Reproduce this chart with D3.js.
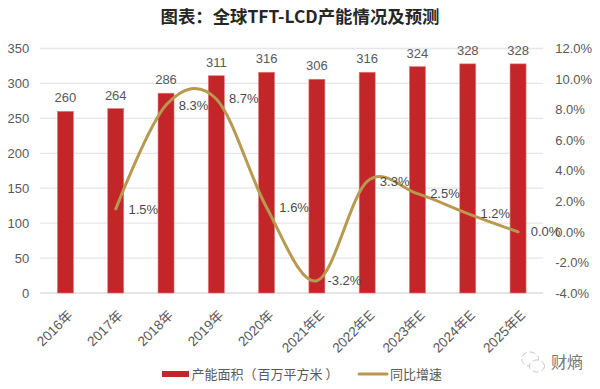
<!DOCTYPE html>
<html>
<head>
<meta charset="utf-8">
<script src="https://cdn.jsdelivr.net/npm/d3@7"></script>
<style>
  html, body { margin: 0; padding: 0; background: #fff; }
  text { font-family: "Liberation Sans", "Noto Sans CJK SC", Arial, sans-serif; fill: #595959; }
  .cjk { font-family: "Noto Sans CJK SC", sans-serif; }
</style>
</head>
<body>
<div id="chart"></div>
<script>
const years = ["2016年", "2017年", "2018年", "2019年", "2020年", "2021年E", "2022年E", "2023年E", "2024年E", "2025年E"];
const capacity = [260, 264, 286, 311, 316, 306, 316, 324, 328, 328];
const growth = [null, 1.5, 8.3, 8.7, 1.6, -3.2, 3.3, 2.5, 1.2, 0.0];
const leftTicks = [0, 50, 100, 150, 200, 250, 300, 350];
const rightTicks = [-4, -2, 0, 2, 4, 6, 8, 10, 12];

const width = 600, height = 389;
const margin = { top: 48.5, left: 40.3, right: 56.8, bottom: 96 };
const innerW = width - margin.left - margin.right,
  innerH = height - margin.top - margin.bottom;

const svg = d3.select("#chart").append("svg")
  .attr("width", width)
  .attr("height", height)
  .style("display", "block");

svg.append("text")
  .attr("class", "cjk")
  .attr("x", 300)
  .attr("y", 23)
  .attr("text-anchor", "middle")
  .style("font-size", "17.4px")
  .style("font-weight", 700)
  .style("fill", "#262626")
  .text("图表：全球TFT-LCD产能情况及预测");

const g = svg.append("g")
  .attr("transform", "translate(" + margin.left + "," + margin.top + ")");

const x = d3.scaleBand().domain(years).range([0, innerW]);
const y = d3.scaleLinear().domain([0, 350]).range([innerH, 0]);
const yRight = d3.scaleLinear().domain([-4, 12]).range([innerH, 0]);
const cx = (d) => x(d) + x.bandwidth() / 2;

// Grid lines
g.append("g")
  .selectAll("line")
  .data(leftTicks)
  .join("line")
  .attr("x1", 0)
  .attr("x2", innerW)
  .attr("y1", (d) => y(d))
  .attr("y2", (d) => y(d))
  .attr("stroke", (d) => (d === 0 ? "#dcdcdc" : "#e6e6e6"))
  .attr("stroke-width", 1.3);

// Axes
const leftAxis = g.append("g")
  .call(d3.axisLeft(y).tickValues(leftTicks).tickSize(0).tickPadding(11));
const rightAxis = g.append("g")
  .attr("transform", "translate(" + innerW + ",0)")
  .call(d3.axisRight(yRight).tickValues(rightTicks).tickSize(0).tickPadding(12)
    .tickFormat((d) => d.toFixed(1) + "%"));
const bottomAxis = g.append("g")
  .attr("transform", "translate(0," + innerH + ")")
  .call(d3.axisBottom(x).tickSize(0));

[leftAxis, rightAxis, bottomAxis].forEach((a) => {
  a.attr("font-family", null);
  a.select(".domain").remove();
  a.selectAll("text").style("font-size", "13px");
});

bottomAxis.selectAll("text")
  .attr("text-anchor", "end")
  .attr("dy", 0)
  .style("font-size", "13.6px")
  .attr("transform", "translate(6,21) rotate(-45)");

// Bars
const barW = 16;
g.selectAll(".bar")
  .data(years)
  .join("rect")
  .attr("class", "bar")
  .attr("x", (d) => cx(d) - barW / 2)
  .attr("width", barW)
  .attr("y", (d, i) => y(capacity[i]))
  .attr("height", (d, i) => innerH - y(capacity[i]))
  .attr("fill", "#c32628")
  .attr("stroke", "#e27a7c")
  .attr("stroke-width", 0.6);

g.selectAll(".bar-label")
  .data(years)
  .join("text")
  .attr("class", "bar-label")
  .attr("x", (d) => cx(d))
  .attr("y", (d, i) => y(capacity[i]) - 9)
  .attr("text-anchor", "middle")
  .style("font-size", "13px")
  .text((d, i) => capacity[i]);

// Growth line, labels sit to the right of each point
const growthPts = years.map((d, i) => ({ year: d, value: growth[i] }))
  .filter((d) => d.value !== null);

g.append("path")
  .datum(growthPts)
  .attr("fill", "none")
  .attr("stroke", "#b8994f")
  .attr("stroke-width", 3)
  .attr("stroke-linecap", "round")
  .attr("d", d3.line()
    .x((d) => cx(d.year))
    .y((d) => yRight(d.value))
    .curve(d3.curveCatmullRom.alpha(0)));

g.selectAll(".growth-label")
  .data(growthPts)
  .join("text")
  .attr("class", "growth-label")
  .attr("x", (d) => cx(d.year) + 27.5)
  .attr("y", (d) => yRight(d.value))
  .attr("dy", "0.35em")
  .attr("text-anchor", "middle")
  .style("font-size", "13px")
  .style("fill", "#4a4a4a")
  .text((d) => d.value.toFixed(1) + "%");

// Legend
const legend = svg.append("g").attr("transform", "translate(0,374)");
legend.append("rect")
  .attr("x", 162).attr("y", -3).attr("width", 27).attr("height", 6)
  .attr("fill", "#c32628");
const legendLabel = legend.append("text")
  .attr("class", "cjk").attr("x", 191.5).attr("dy", "0.35em")
  .style("font-size", "13px");
legendLabel.append("tspan").text("产能面积（");
legendLabel.append("tspan").attr("dx", 1).text("百万平方米");
legendLabel.append("tspan").attr("dx", 3).text("）");
legend.append("line")
  .attr("x1", 359).attr("x2", 387)
  .attr("stroke", "#b8994f").attr("stroke-width", 3).attr("stroke-linecap", "round");
legend.append("text")
  .attr("class", "cjk").attr("x", 390).attr("dy", "0.35em")
  .style("font-size", "13px").text("同比增速");

// Watermark
const mark = svg.append("g")
  .attr("fill", "none").attr("stroke", "#b0b0b0").attr("stroke-width", 0.7);
mark.append("ellipse").attr("cx", 530).attr("cy", 359).attr("rx", 8.5).attr("ry", 7)
  .attr("stroke-dasharray", "6 3");
mark.append("ellipse").attr("cx", 537).attr("cy", 366).attr("rx", 7.5).attr("ry", 6)
  .attr("fill", "#fff").attr("stroke-dasharray", "6 3");
svg.append("text")
  .attr("class", "cjk").attr("x", 551).attr("y", 367.5)
  .style("font-size", "16px").style("fill", "#777").text("财熵");
</script>
</body>
</html>
